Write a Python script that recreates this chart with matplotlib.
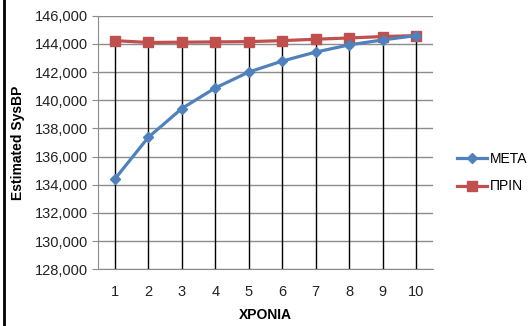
import matplotlib
matplotlib.use("Agg")
import matplotlib.pyplot as plt
from matplotlib.ticker import FuncFormatter
from matplotlib.lines import Line2D

years = [1, 2, 3, 4, 5, 6, 7, 8, 9, 10]
meta = [134400, 137360, 139410, 140870, 142000, 142780, 143420, 143930, 144280, 144590]
prin = [144230, 144100, 144120, 144140, 144160, 144230, 144330, 144420, 144520, 144590]
yticks = list(range(128000, 146001, 2000))

plt.rcParams["font.family"] = ["Liberation Sans", "DejaVu Sans"]

fig = plt.figure(figsize=(5.3, 3.26), dpi=100)
ax = fig.add_axes([98 / 530, 1 - 269.3 / 326, 335 / 530, (269.3 - 15.7) / 326])

# drop lines from the higher series down to the category axis
tops = [max(a, b) for a, b in zip(meta, prin)]
ax.vlines(years, 128000, tops, color="black", lw=1.0, zorder=2)

ax.plot(years, meta, color="#4F81BD", lw=2.3, marker="D", ms=5.5, zorder=4, label="ΜΕΤΑ")
ax.plot(years, prin, color="#C0504D", lw=2.3, marker="s", ms=6.5, zorder=3, label="ΠΡΙΝ")

ax.set_xlim(0.5, 10.5)
ax.set_ylim(128000, 146000)
ax.set_xticks(years)
ax.set_yticks(yticks)
ax.yaxis.set_major_formatter(FuncFormatter(lambda v, p: f"{int(v):,}"))
ax.grid(axis="y", color="#8c8c8c", lw=1.0, zorder=1)
ax.set_axisbelow(True)

for s in ["top", "right"]:
    ax.spines[s].set_visible(False)
ax.spines["left"].set_color("#8c8c8c")
ax.spines["bottom"].set_color("#8c8c8c")
ax.tick_params(axis="y", length=4, color="#8c8c8c", labelsize=10.5, pad=3, labelcolor="#222222")
ax.tick_params(axis="x", length=0, labelsize=10.5, pad=11, labelcolor="#222222")

ax.set_xlabel("ΧΡΟΝΙΑ", fontsize=10, fontweight="bold", labelpad=7)
ax.set_ylabel("Estimated SysBP", fontsize=10, fontweight="bold", labelpad=7)

handles = [
    Line2D([], [], color="#4F81BD", lw=2.3, marker="D", ms=5.5),
    Line2D([], [], color="#C0504D", lw=2.3, marker="s", ms=6.5),
]
fig.legend(handles, ["ΜΕΤΑ", "ΠΡΙΝ"], loc="upper left", bbox_to_anchor=(451 / 530, 1 - 146 / 326),
           frameon=False, fontsize=10, handlelength=2.2, handletextpad=0.2, labelspacing=1.0,
           borderaxespad=0)

# left frame edge
fig.add_artist(Line2D([4 / 530, 4 / 530], [0, 1], color="black", lw=2.0, transform=fig.transFigure))

fig.savefig("out.png", dpi=100)
